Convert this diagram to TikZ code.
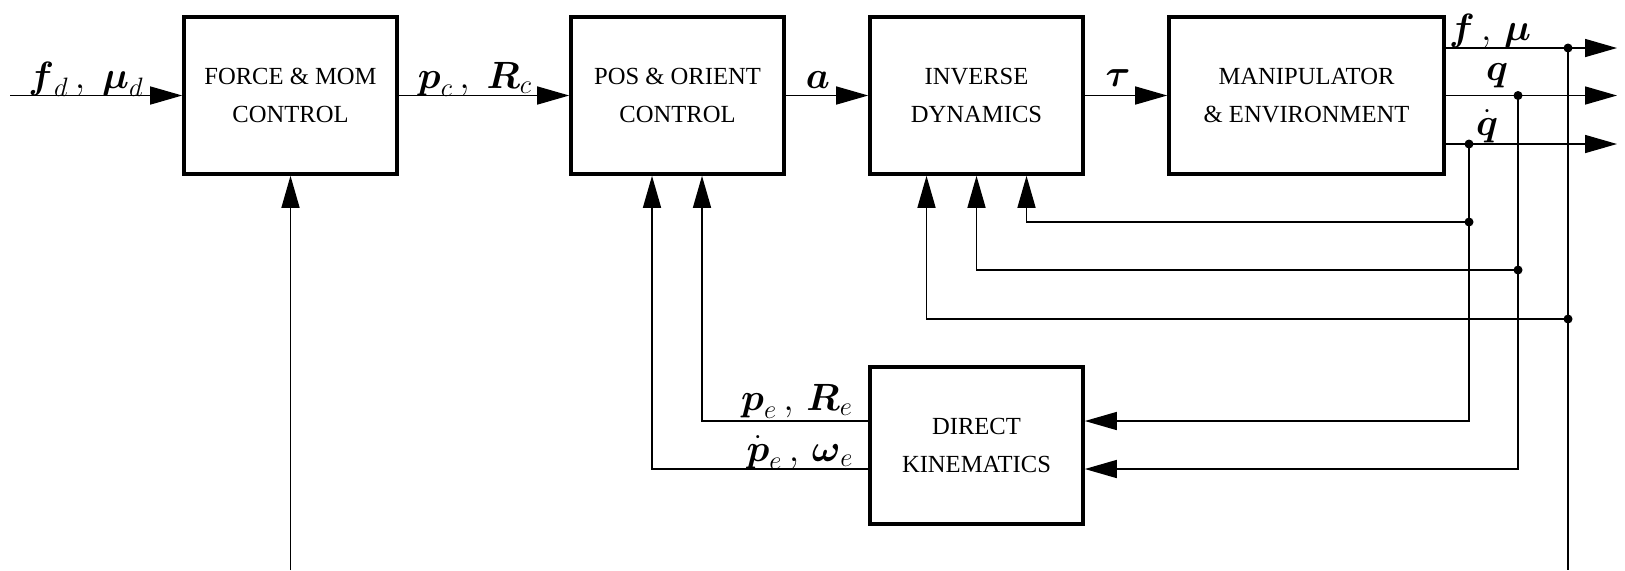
\documentclass[tikz,border=0pt]{standalone}
\usepackage{fix-cm}
\usepackage{amsmath}
\usepackage{fontspec}
\setmainfont{Liberation Serif}
\usetikzlibrary{arrows.meta}
\tikzset{
  blk/.style={draw, line width=1.8pt, minimum width=106.5pt, minimum height=78.5pt,
    inner sep=0pt, align=center, font=\fontsize{12.3}{19}\selectfont},
  wideblk/.style={blk, minimum width=137.5pt},
  con/.style={line width=0.75pt},
  arr/.style={con, -{Triangle[length=16pt,width=9pt]}},
  lab/.style={inner sep=0pt, anchor=base, font=\fontsize{19}{21}\selectfont},
  jdot/.style={circle, fill, inner sep=0pt, minimum size=4.5pt}
}
\begin{document}
\begin{tikzpicture}[x=0.5pt, y=-0.5pt]
\useasboundingbox (0,0) rectangle (1625,570);
% blocks
\node[blk] (fm) at (290.5,95.5) {FORCE \& MOM\\CONTROL};
\node[blk] (po) at (677.5,95.5) {POS \& ORIENT\\CONTROL};
\node[blk] (id) at (976.5,95.5) {INVERSE\\DYNAMICS};
\node[wideblk] (me) at (1306.5,95.5) {MANIPULATOR\\\& ENVIRONMENT};
\node[blk] (dk) at (976.5,445.5) {DIRECT\\KINEMATICS};
% coordinates
\coordinate (in) at (10,95.5);
\coordinate (fin) at (290.5,570);
\coordinate (o1) at (1617,48);
\coordinate (o2) at (1617,95.5);
\coordinate (o3) at (1617,144);
\coordinate (d1) at (1568,48);
\coordinate (d2) at (1518,95.5);
\coordinate (d3) at (1469,144);
\coordinate (j1) at (1469,222);
\coordinate (j2) at (1518,270);
\coordinate (j3) at (1568,319);
\coordinate (k1) at (1469,421);
\coordinate (k2) at (1518,469);
\coordinate (bot) at (1568,570);
\coordinate (e1) at (702,421);
\coordinate (e2) at (652,469);
% forward path
\draw[arr] (in) -- (fm.west);
\draw[arr] (fm.east) -- (po.west);
\draw[arr] (po.east) -- (id.west);
\draw[arr] (id.east) -- (me.west);
\draw[arr] (fin) -- (fm.south);
% outputs
\draw[arr] (me.east |- o1) -- (o1);
\draw[arr] (me.east |- o2) -- (o2);
\draw[arr] (me.east |- o3) -- (o3);
% feedback to inverse dynamics
\draw[con] (d1) -- (bot);
\draw[arr] (j3) -| ([xshift=-25pt]id.south);
\draw[arr] (j2) -| (id.south);
\draw[arr] (j1) -| ([xshift=25pt]id.south);
% to direct kinematics
\draw[arr] (d3) -- (k1) -- (dk.east |- k1);
\draw[arr] (d2) -- (k2) -- (dk.east |- k2);
% from direct kinematics
\draw[arr] (dk.west |- e1) -- (e1) -- (e1 |- po.south);
\draw[arr] (dk.west |- e2) -- (e2) -- (e2 |- po.south);
% dots
\foreach \p in {d1,d2,d3,j1,j2,j3} \node[jdot] at (\p) {};
% labels
\node[lab] (lfd) at (86,88) {$\boldsymbol{f}_d\,,\;\boldsymbol{\mu}_d$};
\node[lab] (lpc) at (475,88) {$\boldsymbol{p}_c\,,\;\boldsymbol{R}_c$};
\node[lab] (la) at (818,88) {$\boldsymbol{a}$};
\node[lab] (ltau) at (1118,86) {$\boldsymbol{\tau}$};
\node[lab] (lfm) at (1490,40) {$\boldsymbol{f}\,,\,\boldsymbol{\mu}$};
\node[lab] (lq) at (1497,80) {$\boldsymbol{q}$};
\node[lab] (lqd) at (1487,135) {$\dot{\boldsymbol{q}}$};
\node[lab] (lpe) at (797,410) {$\boldsymbol{p}_e\,,\,\boldsymbol{R}_e$};
\node[lab] (lpd) at (800,461) {$\dot{\boldsymbol{p}}_e\,,\,\boldsymbol{\omega}_e$};
\end{tikzpicture}
\end{document}
